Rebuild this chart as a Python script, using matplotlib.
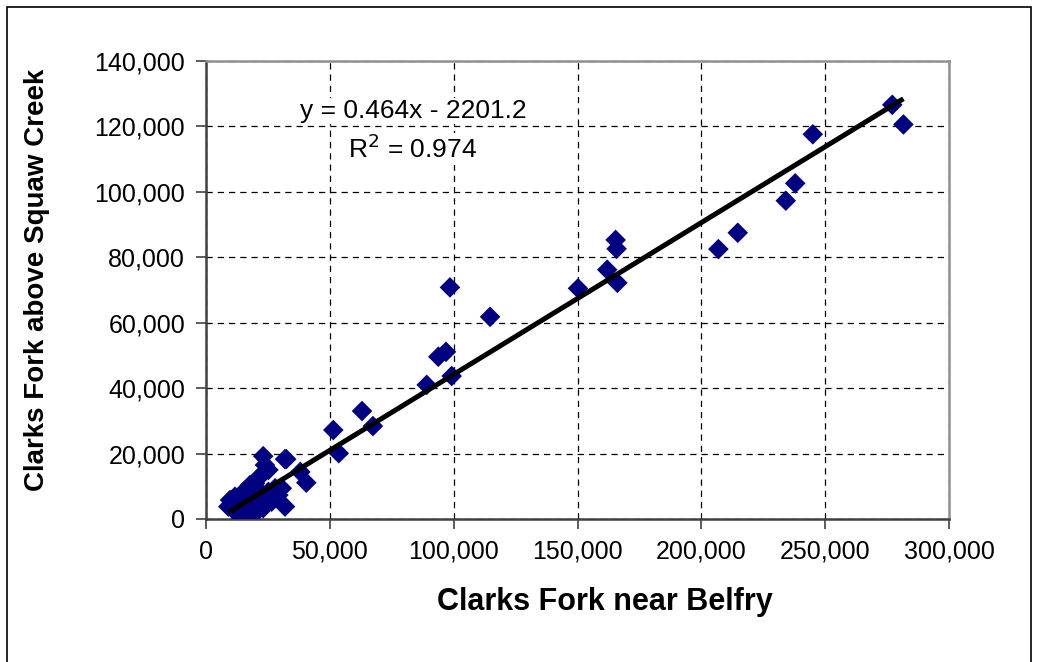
import matplotlib
matplotlib.use("Agg")
import matplotlib.pyplot as plt
from matplotlib.ticker import FuncFormatter, MultipleLocator
from matplotlib.patches import Rectangle
import numpy as np

plt.rcParams['font.family'] = ['Liberation Sans', 'DejaVu Sans']

# Flows (Clarks Fork near Belfry vs Clarks Fork above Squaw Creek)
belfry = [277100, 281600, 245000, 237900, 234100, 214700, 206900, 165400, 165800,
          162000, 166100, 150200, 98500, 114700, 93800, 96900, 99200, 89100,
          63000, 67400, 51400, 53600, 32400, 38100, 40500, 31900,
          23100, 31900, 23800, 25200, 22500, 19800, 17800, 15100, 11700, 9700,
          9000, 11000, 13700, 16400, 19800, 23100, 26500, 29200, 30600,
          17100, 19800, 14400, 22500, 12400, 25200, 27900, 20900]
squaw = [126600, 120600, 117600, 102600, 97300, 87500, 82500, 85300, 82600,
         76200, 72200, 70500, 70800, 61800, 49600, 51100, 43700, 41000,
         33000, 28400, 27200, 20100, 18300, 14400, 11100, 3800,
         19200, 18300, 16500, 15000, 13500, 10900, 10400, 8300, 6800, 5800,
         3800, 2800, 1200, 700, 1700, 3300, 5300, 7300, 9400,
         5300, 6300, 4300, 7800, 3300, 8300, 9400, 12400]

slope = 0.464
intercept = -2201.2
equation = "y = 0.464x - 2201.2"
r2_text = "R$^2$ = 0.974"
xlabel = "Clarks Fork near Belfry"
ylabel = "Clarks Fork above Squaw Creek"

fig = plt.figure(figsize=(10.42, 6.62), dpi=100)
ax = fig.add_axes([206/1042, 1-519/662, (949-206)/1042, (519-61)/662])

ax.scatter(belfry, squaw, marker='D', s=110, color='#000080', edgecolors='none', zorder=3)
xl = np.array([min(belfry), max(belfry)])
ax.plot(xl, slope*xl + intercept, color='black', lw=3.6, zorder=4, solid_capstyle='butt')

ax.set_xlim(0, 300000)
ax.set_ylim(0, 140000)
ax.xaxis.set_major_locator(MultipleLocator(50000))
ax.yaxis.set_major_locator(MultipleLocator(20000))
fmt = FuncFormatter(lambda v, p: f"{int(v):,}")
ax.xaxis.set_major_formatter(fmt)
ax.yaxis.set_major_formatter(fmt)
ax.grid(True, color='black', linestyle=(0, (5, 4)), linewidth=0.9)
ax.set_axisbelow(True)
ax.tick_params(axis='both', labelsize=18, direction='out', length=7, width=1.2,
               color='#404040', pad=8)

for s in ['left', 'bottom']:
    ax.spines[s].set_color('#404040')
    ax.spines[s].set_linewidth(1.8)
for s in ['top', 'right']:
    ax.spines[s].set_color('#909090')
    ax.spines[s].set_linewidth(1.8)

ax.text(413/1042, 1-111/662, equation, transform=fig.transFigure, ha='center', va='center',
        fontsize=19, bbox=dict(facecolor='white', edgecolor='none', pad=1), zorder=5)
ax.text(413/1042, 1-149/662, r2_text, transform=fig.transFigure, ha='center', va='center',
        fontsize=19, bbox=dict(facecolor='white', edgecolor='none', pad=1), zorder=5)

fig.text(605/1042, 1-602/662, xlabel, ha='center', va='center', fontsize=22, fontweight='bold')
fig.text(37/1042, 1-280/662, ylabel, ha='center', va='center', fontsize=20, fontweight='bold',
         rotation=90)

fig.patches.append(Rectangle((7/1042, -0.05), (1031-7)/1042, 1-7/662+0.05,
                             transform=fig.transFigure, fill=False, edgecolor='black', lw=1.2))

fig.savefig("out.png", dpi=100)
